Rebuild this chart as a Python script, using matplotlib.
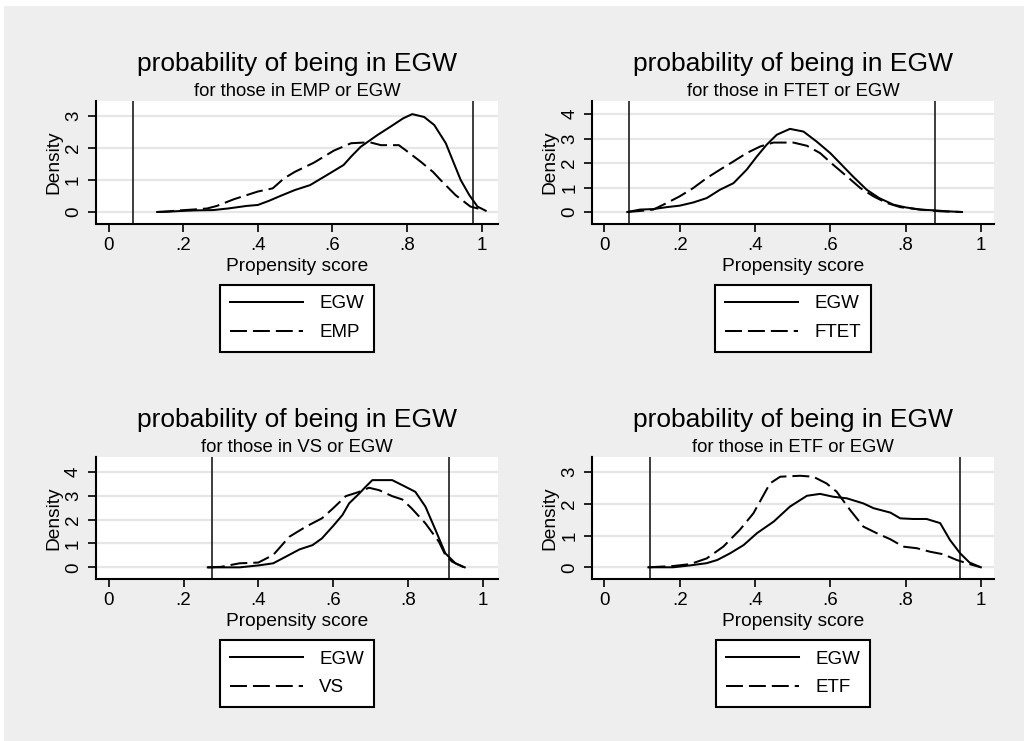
import matplotlib
matplotlib.use("Agg")
import matplotlib.pyplot as plt
from matplotlib.patches import Rectangle

plt.rcParams['font.family'] = ['Liberation Sans', 'DejaVu Sans']

W, H = 1024, 741

# ---------------- data ----------------
titles = ["probability of being in EGW"] * 4
subtitles = ["for those in EMP or EGW", "for those in FTET or EGW",
             "for those in VS or EGW", "for those in ETF or EGW"]
comparison_labels = ["EMP", "FTET", "VS", "ETF"]
x_ticks = [0, 0.2, 0.4, 0.6, 0.8, 1.0]
x_tick_labels = ["0", ".2", ".4", ".6", ".8", "1"]
y_ticks_list = [[0, 1, 2, 3], [0, 1, 2, 3, 4], [0, 1, 2, 3, 4], [0, 1, 2, 3]]
cutoffs = [(0.066, 0.976), (0.066, 0.877), (0.277, 0.911), (0.121, 0.946)]

# Panel 1: EMP vs EGW
emp_egw_x = [0.13, 0.16, 0.19, 0.23, 0.28, 0.32, 0.37, 0.40, 0.43, 0.46, 0.50, 0.54,
             0.586, 0.63, 0.65, 0.676, 0.72, 0.756, 0.79, 0.814, 0.846, 0.873, 0.904,
             0.922, 0.944, 0.967, 0.989, 1.011]
emp_egw_y = [0.0, 0.01, 0.03, 0.05, 0.06, 0.11, 0.19, 0.22, 0.35, 0.50, 0.69, 0.84,
             1.16, 1.47, 1.73, 2.04, 2.40, 2.67, 2.93, 3.06, 2.97, 2.72, 2.15,
             1.63, 1.0, 0.53, 0.17, 0.04]
emp_x = [0.13, 0.16, 0.19, 0.23, 0.264, 0.29, 0.336, 0.40, 0.44, 0.47, 0.50, 0.55,
         0.604, 0.65, 0.70, 0.73, 0.778, 0.80, 0.837, 0.87, 0.89, 0.93, 0.97, 1.0]
emp_y = [0.0, 0.02, 0.05, 0.08, 0.11, 0.19, 0.40, 0.64, 0.74, 1.05, 1.26, 1.54,
         1.92, 2.15, 2.18, 2.09, 2.09, 1.90, 1.57, 1.25, 1.0, 0.53, 0.17, 0.08]

# Panel 2: FTET vs EGW
ftet_egw_x = [0.061, 0.095, 0.13, 0.166, 0.20, 0.236, 0.272, 0.307, 0.343, 0.378,
              0.405, 0.431, 0.458, 0.493, 0.529, 0.564, 0.60, 0.626, 0.66, 0.697,
              0.73, 0.768, 0.80, 0.839, 0.874, 0.91, 0.95]
ftet_egw_y = [0.0, 0.10, 0.12, 0.20, 0.26, 0.39, 0.57, 0.91, 1.18, 1.73,
              2.27, 2.75, 3.16, 3.40, 3.29, 2.88, 2.41, 2.0, 1.46, 0.91,
              0.57, 0.30, 0.19, 0.10, 0.07, 0.03, 0.0]
ftet_x = [0.061, 0.10, 0.13, 0.166, 0.20, 0.236, 0.272, 0.307, 0.343, 0.378, 0.414,
          0.449, 0.502, 0.538, 0.573, 0.608, 0.644, 0.68, 0.715, 0.75, 0.786, 0.839,
          0.892, 0.95]
ftet_y = [0.0, 0.05, 0.10, 0.37, 0.64, 0.98, 1.39, 1.73, 2.07, 2.41, 2.68,
          2.84, 2.84, 2.71, 2.41, 1.93, 1.46, 0.98, 0.64, 0.37, 0.20, 0.10,
          0.03, 0.0]

# Panel 3: VS vs EGW
vs_egw_x = [0.265, 0.35, 0.40, 0.44, 0.474, 0.51, 0.545, 0.57, 0.60, 0.625, 0.643,
            0.67, 0.687, 0.705, 0.758, 0.785, 0.82, 0.847, 0.874, 0.90, 0.927, 0.952]
vs_egw_y = [0.0, 0.0, 0.08, 0.17, 0.45, 0.75, 0.93, 1.21, 1.73, 2.19, 2.68,
            3.09, 3.37, 3.65, 3.65, 3.44, 3.16, 2.54, 1.56, 0.59, 0.17, 0.0]
vs_x = [0.265, 0.30, 0.35, 0.40, 0.44, 0.483, 0.527, 0.57, 0.60, 0.634, 0.67, 0.696,
        0.723, 0.758, 0.785, 0.81, 0.847, 0.883, 0.90, 0.918, 0.95]
vs_y = [0.0, 0.02, 0.17, 0.20, 0.52, 1.28, 1.70, 2.05, 2.47, 2.98, 3.16, 3.33,
        3.23, 2.98, 2.84, 2.47, 1.84, 1.07, 0.52, 0.24, 0.0]

# Panel 4: ETF vs EGW
etf_egw_x = [0.117, 0.183, 0.228, 0.272, 0.30, 0.334, 0.37, 0.405, 0.45, 0.493,
             0.538, 0.573, 0.608, 0.644, 0.688, 0.715, 0.76, 0.786, 0.82, 0.856,
             0.892, 0.918, 0.945, 0.97, 1.0]
etf_egw_y = [0.0, 0.0, 0.06, 0.13, 0.23, 0.44, 0.70, 1.07, 1.44, 1.91,
             2.25, 2.31, 2.22, 2.17, 2.01, 1.86, 1.72, 1.54, 1.52, 1.52,
             1.39, 0.86, 0.44, 0.15, 0.0]
etf_x = [0.117, 0.183, 0.228, 0.272, 0.316, 0.36, 0.396, 0.418, 0.44, 0.467, 0.52,
         0.555, 0.59, 0.617, 0.653, 0.688, 0.724, 0.76, 0.794, 0.83, 0.865, 0.90,
         0.936, 0.97, 1.0]
etf_y = [0.0, 0.04, 0.10, 0.28, 0.65, 1.18, 1.70, 2.17, 2.64, 2.85, 2.88,
         2.85, 2.64, 2.38, 1.80, 1.28, 1.07, 0.88, 0.65, 0.60, 0.49, 0.41,
         0.23, 0.10, 0.0]

egw_curves = [(emp_egw_x, emp_egw_y), (ftet_egw_x, ftet_egw_y),
              (vs_egw_x, vs_egw_y), (etf_egw_x, etf_egw_y)]
cmp_curves = [(emp_x, emp_y), (ftet_x, ftet_y), (vs_x, vs_y), (etf_x, etf_y)]

# ---------------- layout ----------------
panels_px = [(96, 101, 498, 224), (592.3, 101, 994, 224),
             (96, 456.7, 498, 579.3), (592.3, 456.7, 994, 579.3)]
xlims = [(-0.034, 1.044), (-0.032, 1.035), (-0.034, 1.041), (-0.032, 1.035)]
ylims = [(-0.375, 3.47), (-0.49, 4.54), (-0.50, 4.63), (-0.378, 3.48)]

fig = plt.figure(figsize=(W / 100, H / 100), dpi=100, facecolor='white')
fig.patches.append(Rectangle((4 / W, 0), 1 - 4 / W, 1 - 6 / H, transform=fig.transFigure,
                             facecolor='#eeeeee', edgecolor='none', zorder=-10))

LW = 1.45
dash = (0, (12.2 / LW, 4.3 / LW))

for i, (x0, y0, x1, y1) in enumerate(panels_px):
    ax = fig.add_axes([x0 / W, 1 - y1 / H, (x1 - x0) / W, (y1 - y0) / H])
    ax.set_facecolor('white')
    ex, ey = egw_curves[i]
    cx, cy = cmp_curves[i]
    ax.plot(ex, ey, color='black', lw=LW, label='EGW', zorder=3)
    ax.plot(cx, cy, color='black', lw=LW, linestyle=dash, label=comparison_labels[i], zorder=3)
    for c in cutoffs[i]:
        ax.axvline(c, color='#2e2e2e', lw=1.3, zorder=2)
    ax.set_xlim(*xlims[i])
    ax.set_ylim(*ylims[i])
    ax.set_xticks(x_ticks)
    ax.set_xticklabels(x_tick_labels)
    ax.set_yticks(y_ticks_list[i])
    ax.set_yticklabels([str(v) for v in y_ticks_list[i]], rotation=90, va='center')
    for yv in y_ticks_list[i]:
        ax.axhline(yv, color='#e6e6e6', lw=1.6, zorder=1)
    for s in ['top', 'right']:
        ax.spines[s].set_visible(False)
    for s in ['left', 'bottom']:
        ax.spines[s].set_linewidth(1.5)
        ax.spines[s].set_color('black')
    ax.tick_params(axis='x', length=5.5, width=1.2, pad=4, labelsize=13.5)
    ax.tick_params(axis='y', length=5.5, width=1.2, pad=4.5, labelsize=13.5)

    cxp = (x0 + x1) / 2
    fig.text(cxp / W, 1 - (y0 - 30) / H, titles[i], ha='center', va='baseline', fontsize=19)
    fig.text(cxp / W, 1 - (y0 - 5) / H, subtitles[i], ha='center', va='baseline', fontsize=13.3)
    fig.text(cxp / W, 1 - (y1 + 47) / H, "Propensity score", ha='center', va='baseline', fontsize=13.8)
    fig.text((x0 - 38) / W, 1 - ((y0 + y1) / 2) / H, "Density", rotation=90,
             rotation_mode='anchor', ha='center', va='baseline', fontsize=13.8)

    leg = ax.legend(loc='upper center', bbox_to_anchor=(cxp / W, 1 - (y1 + 61) / H),
                    bbox_transform=fig.transFigure, borderaxespad=0, fontsize=13.5,
                    handlelength=3.9, handletextpad=0.85, borderpad=0.55, labelspacing=0.62,
                    fancybox=False, framealpha=1, edgecolor='black', facecolor='white')
    leg.get_frame().set_linewidth(1.5)

fig.savefig("out.png", dpi=100, facecolor=fig.get_facecolor())
